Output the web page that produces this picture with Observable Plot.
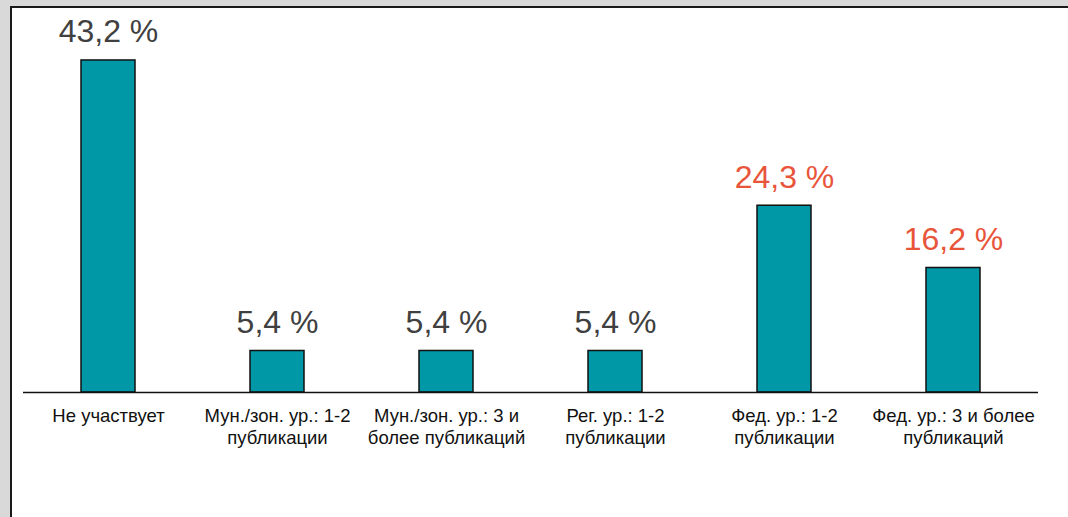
<!DOCTYPE html>
<html>
<head>
<meta charset="utf-8">
<script src="https://cdn.jsdelivr.net/npm/d3@7"></script>
<script src="https://cdn.jsdelivr.net/npm/@observablehq/plot@0.6"></script>
<style>
  html, body { margin: 0; padding: 0; background: #d9d9d9; width: 1068px; height: 517px; overflow: hidden; }
  #frame { position: absolute; left: 10px; top: 6px; width: 1100px; height: 600px; background: #fff;
           border-left: 2px solid #1a1a1a; border-top: 2px solid #1a1a1a; }
  #chart { position: absolute; left: 0; top: 0; }
  #chart svg { background: transparent; font-family: "Liberation Sans", Arial, sans-serif; }
</style>
</head>
<body>
<div id="frame"></div>
<div id="chart"></div>
<script>
const categories = [
  "Не участвует",
  "Мун./зон. ур.: 1-2 публикации",
  "Мун./зон. ур.: 3 и более публикаций",
  "Рег. ур.: 1-2 публикации",
  "Фед. ур.: 1-2 публикации",
  "Фед. ур.: 3 и более публикаций"
];
const tickLabels = [
  "Не участвует",
  "Мун./зон. ур.: 1-2\nпубликации",
  "Мун./зон. ур.: 3 и\nболее публикаций",
  "Рег. ур.: 1-2\nпубликации",
  "Фед. ур.: 1-2\nпубликации",
  "Фед. ур.: 3 и более\nпубликаций"
];
const values = [43.2, 5.4, 5.4, 5.4, 24.3, 16.2];
const highlighted = [false, false, false, false, true, true];

const data = categories.map((c, i) => ({category: c, value: values[i], label: tickLabels[i], hi: highlighted[i]}));
const fmt = v => v.toFixed(1).replace(".", ",") + " %";

const chart = Plot.plot({
  width: 1068,
  height: 517,
  marginLeft: 23,
  marginRight: 30,
  marginTop: 20,
  marginBottom: 125,
  style: {background: "transparent", fontFamily: "'Liberation Sans', Arial, sans-serif"},
  x: {domain: categories, paddingInner: 0.68, paddingOuter: 0.34, label: null},
  y: {domain: [0, 48.4], axis: null},
  marks: [
    Plot.barY(data, {x: "category", y: "value", fill: "#0097a7", stroke: "#111", strokeWidth: 1.5}),
    Plot.ruleY([0], {stroke: "#111", strokeWidth: 1.5}),
    Plot.text(data, {x: "category", y: "value", text: d => fmt(d.value), dy: -18, lineAnchor: "bottom",
      fontSize: 32, fill: d => d.hi ? "#e8553a" : "#404040"}),
    Plot.axisX({tickSize: 0, tickPadding: 15, fontSize: 18.5, lineHeight: 1.14, fill: "#111",
      tickFormat: c => tickLabels[categories.indexOf(c)], label: null})
  ]
});
document.getElementById("chart").appendChild(chart);
</script>
</body>
</html>
